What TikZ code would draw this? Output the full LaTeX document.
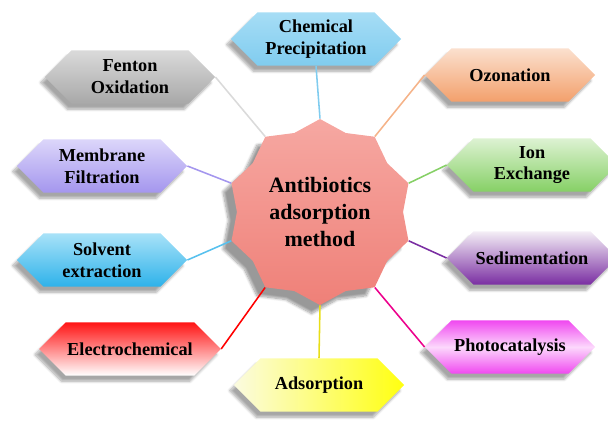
\documentclass[tikz,border=0pt]{standalone}
\usepackage{fontspec}
\setmainfont{Liberation Serif}
\usepackage{xcolor}
\usetikzlibrary{shapes.geometric, shapes.symbols, shadows.blur}
\definecolor{hubtop}{HTML}{F6A8A2}
\definecolor{hubbot}{HTML}{EF8078}
\definecolor{fentontop}{HTML}{DADADA}
\definecolor{fentonbot}{HTML}{A8A8A8}
\definecolor{chemtop}{HTML}{A6DDF5}
\definecolor{chembot}{HTML}{80CCEF}
\definecolor{ozonetop}{HTML}{FBE0CE}
\definecolor{ozonebot}{HTML}{F3A06C}
\definecolor{membtop}{HTML}{DCD6FA}
\definecolor{membbot}{HTML}{A496EE}
\definecolor{iontop}{HTML}{DDF2D2}
\definecolor{ionbot}{HTML}{86D066}
\definecolor{solvtop}{HTML}{A8E2F8}
\definecolor{solvbot}{HTML}{2EB2EA}
\definecolor{sedtop}{HTML}{F4EEF6}
\definecolor{sedbot}{HTML}{7A2EA2}
\definecolor{electop}{HTML}{FF1414}
\definecolor{adsleft}{HTML}{FBFBE0}
\definecolor{adsright}{HTML}{FFFF10}
\definecolor{photoedge}{HTML}{F048F0}
\definecolor{photomid}{HTML}{FCD8FC}
\tikzset{
    method/.style={
        signal,
        signal to=east and west,
        signal pointer angle=90,
        minimum width=4.25cm,
        minimum height=1.33cm,
        inner sep=1pt,
        align=center,
        font=\fontsize{13}{15.6}\selectfont\bfseries,
        blur shadow={shadow xshift=-3pt, shadow yshift=-4pt, shadow blur steps=8, shadow opacity=35}
    },
    hub/.style={
        star,
        star points=10,
        star point ratio=1.12,
        minimum size=4.65cm,
        align=center,
        top color=hubtop,
        bottom color=hubbot,
        font=\fontsize{15.6}{19.2}\selectfont\bfseries,
        blur shadow={shadow xshift=-6pt, shadow yshift=-6pt, shadow blur steps=10, shadow opacity=40}
    },
    link/.style={
        line width=1.1pt
    }
}
\begin{document}
\begin{tikzpicture}[x=0.025cm, y=-0.025cm]
\useasboundingbox (0,0) rectangle (608,424);

% Centre
\node[hub] (hub) at (320,212) {Antibiotics\\adsorption\\method};

% Methods
\node[method, top color=chemtop, bottom color=chembot] (chem) at (316,39) {Chemical\\Precipitation};
\node[method, top color=fentontop, bottom color=fentonbot] (fenton) at (130,77) {Fenton\\Oxidation};
\node[method, top color=ozonetop, bottom color=ozonebot] (ozone) at (510,75) {Ozonation};
\node[method, top color=membtop, bottom color=membbot] (memb) at (102,166) {Membrane\\Filtration};
\node[method, top color=iontop, bottom color=ionbot] (ion) at (532,165) {Ion\\Exchange};
\node[method, top color=solvtop, bottom color=solvbot] (solv) at (102,260) {Solvent\\extraction};
\node[method, top color=sedtop, bottom color=sedbot] (sed) at (532,258) {Sedimentation};
\node[method, top color=electop, bottom color=white] (elec) at (130,349) {Electrochemical};
\node[method, left color=adsleft, right color=adsright] (ads) at (319,385) {Adsorption};
\node[method, top color=photoedge, bottom color=photoedge, middle color=photomid] (photo) at (510,347) {Photocatalysis};

% Links
\draw[link, draw=chembot] (hub.outer point 1) -- (chem.south);
\draw[link, draw=fentontop] (hub.outer point 2) -- (fenton.east);
\draw[link, draw=membbot] (hub.outer point 3) -- (memb.east);
\draw[link, draw=solvbot!80] (hub.outer point 4) -- (solv.east);
\draw[link, draw=red] (hub.outer point 5) -- (elec.east);
\draw[link, draw=yellow!90!black] (hub.outer point 6) -- (ads.north);
\draw[link, draw=magenta] (hub.outer point 7) -- (photo.west);
\draw[link, draw=sedbot] (hub.outer point 8) -- (sed.west);
\draw[link, draw=ionbot] (hub.outer point 9) -- (ion.west);
\draw[link, draw=ozonebot!80] (hub.outer point 10) -- (ozone.west);

\end{tikzpicture}
\end{document}
